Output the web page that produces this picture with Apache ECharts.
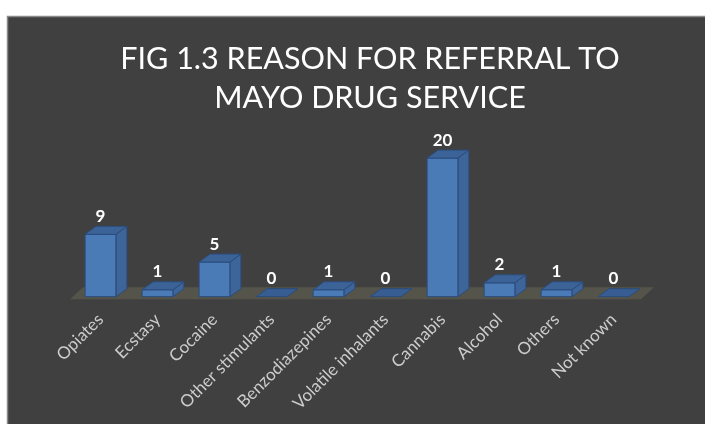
<!DOCTYPE html>
<html>
<head>
<meta charset="utf-8">
<style>
  html, body { margin: 0; padding: 0; background: #ffffff; }
  #chart { width: 705px; height: 424px; }
</style>
<script src="https://cdn.jsdelivr.net/npm/echarts@6/dist/echarts.min.js"></script>
</head>
<body>
<div id="chart"></div>
<script>
// Referral reasons and client counts
const categories = ['Opiates', 'Ecstasy', 'Cocaine', 'Other stimulants', 'Benzodiazepines',
  'Volatile inhalants', 'Cannabis', 'Alcohol', 'Others', 'Not known'];
const counts = [9, 1, 5, 0, 1, 0, 20, 2, 1, 0];
const titleText = 'FIG 1.3 REASON FOR REFERRAL TO\nMAYO DRUG SERVICE';

const FONT = 'Lato, "Open Sans", sans-serif';
const DEPTH_X = 11, DEPTH_Y = -8;     // extrusion of the box faces
const BAR_RATIO = 0.54;               // bar width as a share of the category band

const chart = echarts.init(document.getElementById('chart'), null, { renderer: 'canvas' });

// Box-like bar: front face, right side and top, with the count above it
function renderBox(params, api) {
  const idx = api.value(0);
  const v = api.value(1);
  const base = api.coord([idx, 0]);
  const top = api.coord([idx, v]);
  const band = api.size([1, 0])[0];
  const w = band * BAR_RATIO;
  const x0 = base[0] - w / 2, x1 = base[0] + w / 2;
  const yb = base[1], yt = top[1];
  const edge = '#2c4c7c';
  const children = [];
  if (v > 0) {
    children.push({
      type: 'polygon',
      shape: { points: [[x1, yb], [x1 + DEPTH_X, yb + DEPTH_Y], [x1 + DEPTH_X, yt + DEPTH_Y], [x1, yt]] },
      style: { fill: '#3d6599', stroke: edge, lineWidth: 1 }
    });
    children.push({
      type: 'rect',
      shape: { x: x0, y: yt, width: w, height: yb - yt },
      style: { fill: '#4a7bb7', stroke: edge, lineWidth: 1 }
    });
  }
  children.push({
    type: 'polygon',
    shape: { points: [[x0, yt], [x1, yt], [x1 + DEPTH_X, yt + DEPTH_Y], [x0 + DEPTH_X, yt + DEPTH_Y]] },
    style: { fill: v > 0 ? '#3c6397' : '#375d92', stroke: edge, lineWidth: 1 }
  });
  children.push({
    type: 'text',
    style: {
      x: base[0], y: yt - 18, text: String(v),
      fill: '#ffffff', font: 'bold 17px ' + FONT,
      align: 'center', verticalAlign: 'middle'
    }
  });
  return { type: 'group', children };
}

// Floor plane under the bars, spanning the whole category axis
function renderFloor(params, api) {
  const first = api.coord([0, 0]);
  const last = api.coord([categories.length - 1, 0]);
  const band = api.size([1, 0])[0];
  const left = first[0] - band / 2 - 2;
  const right = last[0] + band / 2 - 1;
  const y = first[1];
  return {
    type: 'polygon',
    shape: { points: [[left, y + 2.5], [right, y + 2.5], [right + 13, y - 9.5], [left + 13, y - 9.5]] },
    style: { fill: '#55544a' }
  };
}

chart.setOption({
  animation: false,
  backgroundColor: '#ffffff',
  graphic: [{
    type: 'rect', z: -10, silent: true,
    shape: { x: 7.5, y: 16.5, width: 720, height: 420 },
    style: { fill: '#404040', stroke: '#8a8a8a', lineWidth: 1.5 }
  }],
  title: {
    text: titleText,
    left: 365, top: 35, textAlign: 'center',
    textStyle: { color: '#ffffff', fontFamily: FONT, fontWeight: 'normal', fontSize: 30.5, lineHeight: 39 }
  },
  grid: { left: 72, right: 63, top: 88.8, bottom: 127.3 },
  xAxis: {
    type: 'category',
    data: categories,
    axisLine: { show: false },
    axisTick: { show: false },
    axisLabel: { rotate: 45, margin: 20, color: '#cccccc', fontFamily: FONT, fontSize: 17, interval: 0 }
  },
  yAxis: { type: 'value', min: 0, max: 30, show: false, splitLine: { show: false } },
  series: [
    { type: 'custom', z: 1, renderItem: renderFloor, data: [[0]], silent: true },
    {
      type: 'custom', z: 2, renderItem: renderBox,
      encode: { x: 0, y: 1 },
      data: counts.map((c, i) => [i, c])
    }
  ]
});
</script>
</body>
</html>
